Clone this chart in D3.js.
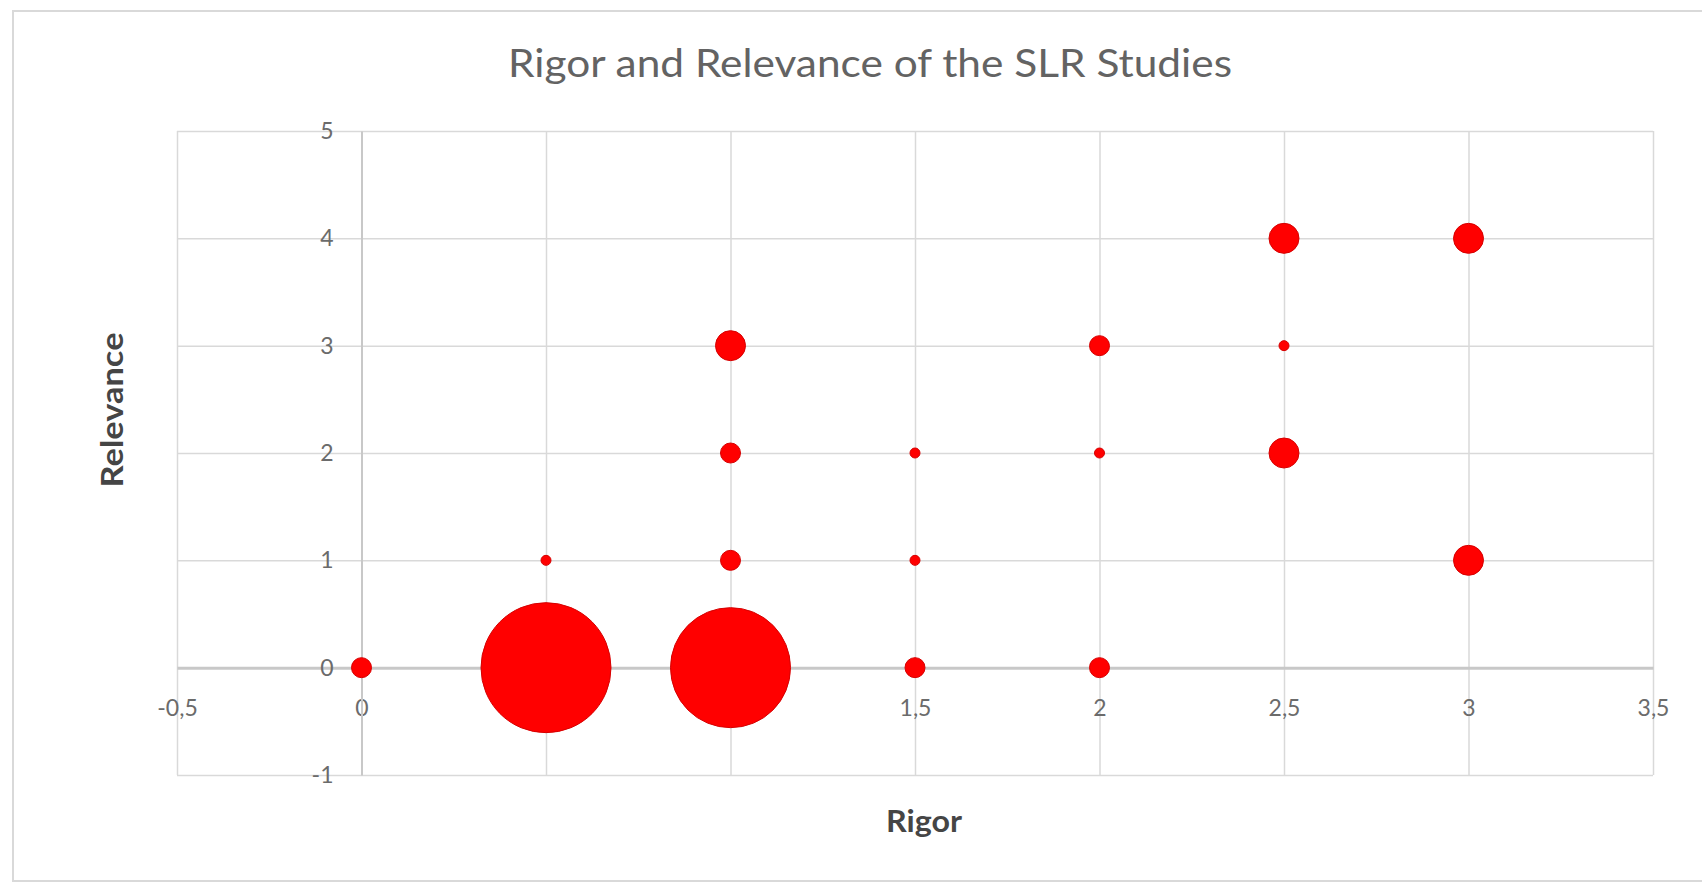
<!DOCTYPE html>
<html>
<head>
<meta charset="utf-8">
<script src="https://cdn.jsdelivr.net/npm/d3@7"></script>
<style>
  body { margin: 0; background: #fff; }
  svg { display: block; }
</style>
</head>
<body>
<div id="chart"></div>
<script>
// datos: cada burbuja = (rigor, relevancia, nº de estudios)
const rigor     = [0, 0.5, 0.5, 1, 1, 1, 1, 1.5, 1.5, 1.5, 2, 2, 2, 2.5, 2.5, 2.5, 3, 3];
const relevance = [0, 0,   1,   0, 1, 2, 3, 0,   1,   2,   0, 2, 3, 2,   3,   4,   1, 4];
const studies   = [2, 13,  1,  12, 2, 2, 3, 2,   1,   1,   2, 1, 2, 3,   1,   3,   3, 3];

const xTicks = [-0.5, 0, 0.5, 1, 1.5, 2, 2.5, 3, 3.5];
const yTicks = [-1, 0, 1, 2, 3, 4, 5];

const title = "Rigor and Relevance of the SLR Studies";
const xTitle = "Rigor";
const yTitle = "Relevance";

const W = 1702, H = 886;
const font = "Lato, 'Open Sans', sans-serif";

const svg = d3.select("#chart").append("svg")
    .attr("width", W)
    .attr("height", H);

// marco exterior del gráfico
svg.append("rect")
    .attr("x", 13).attr("y", 11)
    .attr("width", W).attr("height", 870)
    .attr("fill", "#fff")
    .attr("stroke", "#d9d9d9")
    .attr("stroke-width", 2);

const x = d3.scaleLinear().domain([-0.5, 3.5]).range([177, 1653]);
const y = d3.scaleLinear().domain([-1, 5]).range([775, 131]);
// tamaño = ancho de la burbuja
const r = d3.scaleLinear().domain([0, 13]).range([0, 65]);

const fmt = d => String(d).replace(".", ",");

// rejilla
svg.append("g")
    .attr("transform", `translate(0, ${y(-1)})`)
    .call(d3.axisBottom(x).tickValues(xTicks).tickSize(-(y(-1) - y(5))).tickFormat(""))
    .call(g => g.select(".domain").remove())
    .call(g => g.selectAll("line").attr("stroke", "#d9d9d9").attr("stroke-width", 1.5));

svg.append("g")
    .attr("transform", `translate(${x(-0.5)}, 0)`)
    .call(d3.axisLeft(y).tickValues(yTicks).tickSize(-(x(3.5) - x(-0.5))).tickFormat(""))
    .call(g => g.select(".domain").remove())
    .call(g => g.selectAll("line").attr("stroke", "#d9d9d9").attr("stroke-width", 1.5));

// ejes que cruzan en 0
const xAxis = svg.append("g")
    .attr("transform", `translate(0, ${y(0)})`)
    .call(d3.axisBottom(x).tickValues(xTicks).tickSize(0).tickSizeOuter(0).tickPadding(32).tickFormat(fmt));
xAxis.select(".domain").attr("stroke", "#c8c8c8").attr("stroke-width", 3);

const yAxis = svg.append("g")
    .attr("transform", `translate(${x(0)}, 0)`)
    .call(d3.axisLeft(y).tickValues(yTicks).tickSize(0).tickSizeOuter(0).tickPadding(28).tickFormat(fmt));
yAxis.select(".domain").attr("stroke", "#c8c8c8").attr("stroke-width", 2);

svg.selectAll(".tick text")
    .attr("font-family", font)
    .attr("font-size", 23)
    .attr("fill", "#6b6b6b");

// burbujas (grandes primero)
const idx = d3.range(rigor.length).sort((a, b) => studies[b] - studies[a]);
svg.append("g")
    .selectAll("circle")
    .data(idx)
    .enter()
    .append("circle")
    .attr("cx", i => x(rigor[i]))
    .attr("cy", i => y(relevance[i]))
    .attr("r", i => r(studies[i]))
    .attr("fill", "#ff0000")
    .attr("stroke", "#d60000")
    .attr("stroke-width", 1);

// titulo y ejes
svg.append("text")
    .attr("x", 870)
    .attr("y", 77)
    .attr("text-anchor", "middle")
    .attr("font-family", font)
    .attr("font-size", 39)
    .attr("fill", "#636363")
    .attr("textLength", 724)
    .attr("lengthAdjust", "spacingAndGlyphs")
    .text(title);

svg.append("text")
    .attr("x", 924)
    .attr("y", 832)
    .attr("text-anchor", "middle")
    .attr("font-family", font)
    .attr("font-size", 31)
    .attr("font-weight", "bold")
    .attr("fill", "#454545")
    .attr("textLength", 76)
    .attr("lengthAdjust", "spacingAndGlyphs")
    .text(xTitle);

svg.append("text")
    .attr("transform", "translate(123, 410) rotate(-90)")
    .attr("text-anchor", "middle")
    .attr("font-family", font)
    .attr("font-size", 31)
    .attr("font-weight", "bold")
    .attr("fill", "#454545")
    .attr("textLength", 155)
    .attr("lengthAdjust", "spacingAndGlyphs")
    .text(yTitle);
</script>
</body>
</html>
